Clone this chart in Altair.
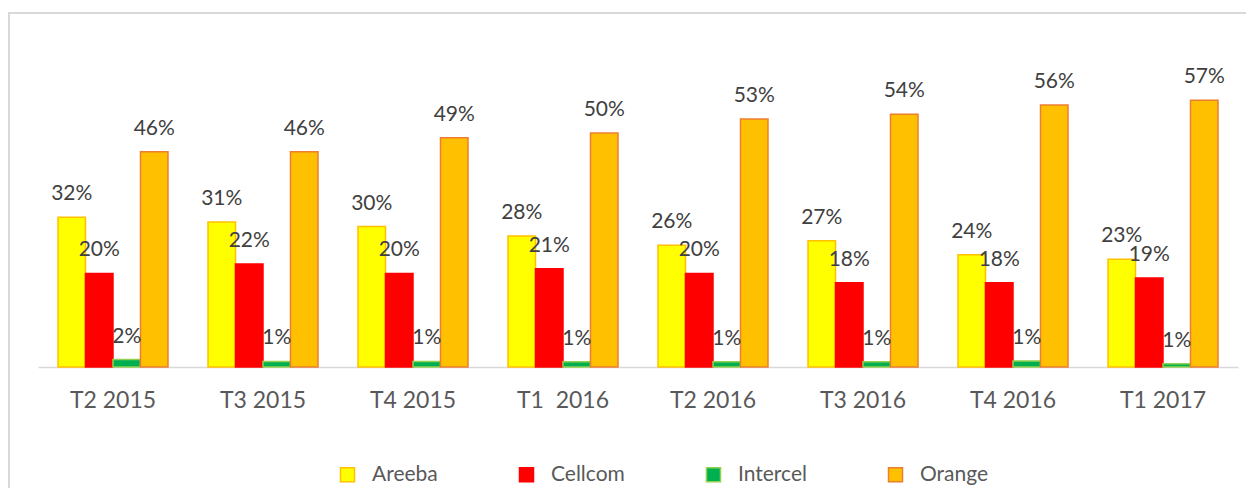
import altair as alt
import pandas as pd

periods = ["T2 2015", "T3 2015", "T4 2015", "T1\u00a0 2016", "T2 2016", "T3 2016", "T4 2016", "T1 2017"]
operators = ["Areeba", "Cellcom", "Intercel", "Orange"]
areeba = [32, 31, 30, 28, 26, 27, 24, 23]
cellcom = [20, 22, 20, 21, 20, 18, 18, 19]
intercel = [1.6, 1.2, 1.2, 1.1, 1.1, 1.1, 1.3, 0.7]
orange = [46, 46, 49, 50, 53, 54, 56, 57]

fills = ["#FFFF00", "#FF0000", "#00B050", "#FFC000"]
strokes = ["#FFC000", "#FF0000", "#92D050", "#ED7D31"]

rows = []
for name, vals in zip(operators, [areeba, cellcom, intercel, orange]):
    for p, v in zip(periods, vals):
        rows.append({"period": p, "operator": name, "value": v})
df = pd.DataFrame(rows)

x_enc = alt.X("period:N", sort=periods, title=None,
              scale=alt.Scale(paddingInner=0.2667, paddingOuter=0.1333),
              axis=alt.Axis(labelAngle=0, ticks=False, domainColor="#d9d9d9", domainWidth=1.5,
                            labelFont="Lato", labelFontSize=23, labelColor="#595959",
                            labelPadding=22))
xo_enc = alt.XOffset("operator:N", sort=operators, scale=alt.Scale(paddingInner=0, paddingOuter=0))
y_enc = alt.Y("value:Q", scale=alt.Scale(domain=[0, 72], nice=False), axis=None)

base = alt.Chart(df)

bars = base.mark_bar(strokeWidth=1.5).encode(
    x=x_enc,
    xOffset=xo_enc,
    y=y_enc,
    fill=alt.Fill("operator:N", sort=operators,
                  scale=alt.Scale(domain=operators, range=fills),
                  legend=alt.Legend(title=None, orient="none", direction="horizontal", columns=4,
                                    legendX=299, legendY=434, symbolType="square", symbolSize=196,
                                    symbolStrokeWidth=1.5, labelFont="Lato", labelFontSize=21,
                                    labelColor="#595959", labelOffset=14, columnPadding=78,
                                    padding=0)),
    stroke=alt.Stroke("operator:N", sort=operators,
                      scale=alt.Scale(domain=operators, range=strokes)),
)

labels = base.transform_calculate(
    label="format(datum.value, '.0f') + '%'"
).mark_text(font="Lato", fontSize=21, color="#404040", baseline="alphabetic", dy=-17).encode(
    x=alt.X("period:N", sort=periods),
    xOffset=alt.XOffset("operator:N", sort=operators),
    y=alt.Y("value:Q"),
    text="label:N",
)

frame = alt.Chart(pd.DataFrame({"k": [0]})).mark_rect(
    fillOpacity=0, stroke="#d9d9d9", strokeWidth=2
).encode(
    x=alt.value(-29), x2=alt.value(1400), y=alt.value(-17), y2=alt.value(700)
)

chart = alt.layer(frame, bars, labels).properties(
    width=1200, height=337,
    autosize=alt.AutoSizeParams(type="none"),
    padding={"left": 30, "top": 22, "right": 8, "bottom": 121},
).configure_view(stroke=None)

chart.save("out.html", embed_options={"renderer": "svg", "actions": False})
